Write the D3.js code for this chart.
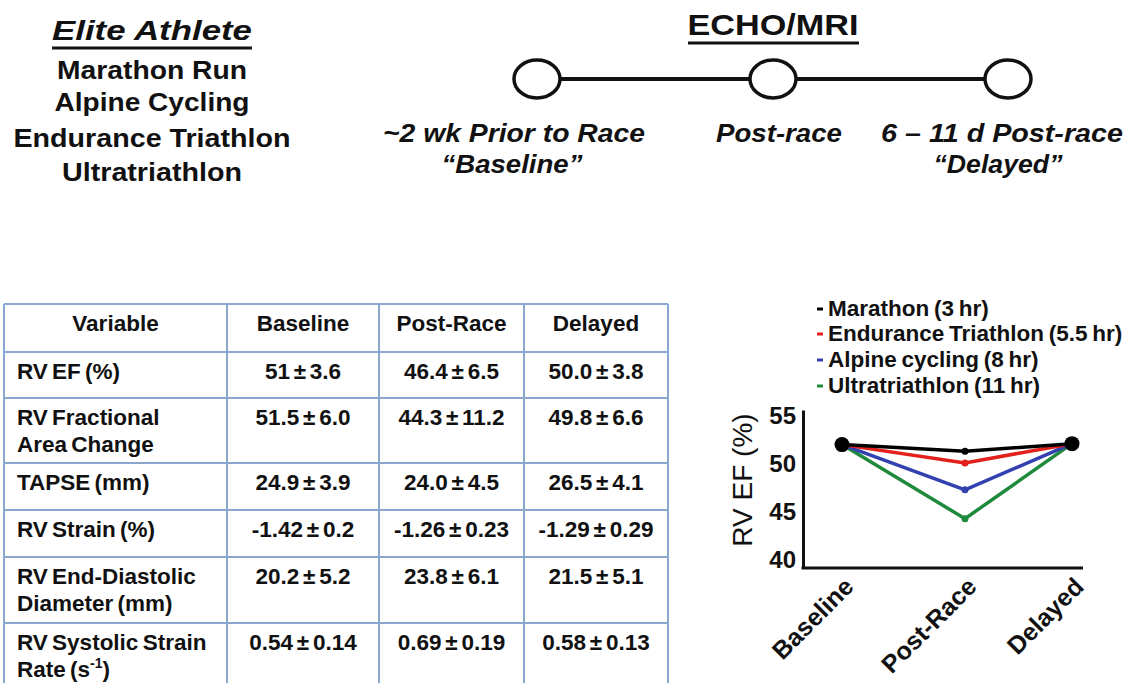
<!DOCTYPE html>
<html>
<head>
<meta charset="utf-8">
<script src="https://cdn.jsdelivr.net/npm/d3@7/dist/d3.min.js"></script>
<style>
  html, body { margin: 0; padding: 0; background: #fff; }
  svg { display: block; }
  text { font-family: "Liberation Sans", Arial, Helvetica, sans-serif; fill: #111; }
</style>
</head>
<body>
<svg id="chart" width="1127" height="683"></svg>
<script>
// ---------------- DATA ----------------
const sports = ["Marathon Run", "Alpine Cycling", "Endurance Triathlon", "Ultratriathlon"];
const timepoints = ["Baseline", "Post-Race", "Delayed"];
const timelineLabels = [["~2 wk Prior to Race", "\u201cBaseline\u201d"], ["Post-race"], ["6 \u2013 11 d Post-race", "\u201cDelayed\u201d"]];
const tableHeader = ["Variable", "Baseline", "Post-Race", "Delayed"];
const variables = [["RV EF (%)"], ["RV Fractional", "Area Change"], ["TAPSE (mm)"], ["RV Strain (%)"], ["RV End-Diastolic", "Diameter (mm)"], ["RV Systolic Strain", "Rate (s|-1|)"]];
const baselineVals = ["51 \u00b1 3.6", "51.5 \u00b1 6.0", "24.9 \u00b1 3.9", "-1.42 \u00b1 0.2", "20.2 \u00b1 5.2", "0.54 \u00b1 0.14"];
const postRaceVals = ["46.4 \u00b1 6.5", "44.3 \u00b1 11.2", "24.0 \u00b1 4.5", "-1.26 \u00b1 0.23", "23.8 \u00b1 6.1", "0.69 \u00b1 0.19"];
const delayedVals = ["50.0 \u00b1 3.8", "49.8 \u00b1 6.6", "26.5 \u00b1 4.1", "-1.29 \u00b1 0.29", "21.5 \u00b1 5.1", "0.58 \u00b1 0.13"];
const seriesNames = ["Marathon (3 hr)", "Endurance Triathlon (5.5 hr)", "Alpine cycling (8 hr)", "Ultratriathlon (11 hr)"];
const seriesColors = ["#000000", "#e3201b", "#3340b0", "#1f8a3c"];
const marathonEF = [52.0, 51.3, 52.1];
const triathlonEF = [52.0, 50.1, 52.1];
const cyclingEF = [52.0, 47.3, 52.1];
const ultraEF = [52.0, 44.3, 52.1];
const yTicks = [40, 45, 50, 55];
const yLabel = "RV EF (%)";

// ---------------- LAYOUT ----------------
const svg = d3.select("#chart");
const FONT = '"Liberation Sans", Arial, Helvetica, sans-serif';
function fit(sel, w) { return sel.attr("textLength", w).attr("lengthAdjust", "spacingAndGlyphs"); }

// --- Left header ---
const leftHead = svg.append("g");
fit(leftHead.append("text").attr("x", 152).attr("y", 40).attr("text-anchor", "middle")
  .attr("font-size", 28).attr("font-weight", "bold").attr("font-style", "italic").text("Elite Athlete"), 200);
leftHead.append("line").attr("x1", 52).attr("x2", 252).attr("y1", 48).attr("y2", 48)
  .attr("stroke", "#111").attr("stroke-width", 3);
const sportW = [190, 195, 277, 180];
const sportY = [79, 111, 147, 181];
sports.forEach((s, i) => {
  fit(leftHead.append("text").attr("x", 152).attr("y", sportY[i]).attr("text-anchor", "middle")
    .attr("font-size", 25.5).attr("font-weight", "bold").text(s), sportW[i]);
});

// --- Right header (timeline) ---
const tl = svg.append("g");
fit(tl.append("text").attr("x", 773).attr("y", 35).attr("text-anchor", "middle")
  .attr("font-size", 30).attr("font-weight", "bold").text("ECHO/MRI"), 171);
tl.append("line").attr("x1", 688).attr("x2", 859).attr("y1", 43).attr("y2", 43)
  .attr("stroke", "#111").attr("stroke-width", 3);
const tlX = d3.scaleOrdinal().domain(timepoints).range([537, 773, 1008]);
tl.append("line").attr("x1", tlX("Baseline")).attr("x2", tlX("Delayed")).attr("y1", 79).attr("y2", 79)
  .attr("stroke", "#111").attr("stroke-width", 4);
tl.selectAll("ellipse").data(timepoints).join("ellipse")
  .attr("cx", d => tlX(d)).attr("cy", 79).attr("rx", 23).attr("ry", 19)
  .attr("fill", "#fff").attr("stroke", "#111").attr("stroke-width", 3.5);
const tlLabelX = [[514, 512], [779], [1002, 998]];
const tlLabelW = [[262, 141], [126], [242, 129]];
const tlLabelY = [142, 173];
timelineLabels.forEach((lines, i) => {
  lines.forEach((t, j) => {
    fit(tl.append("text").attr("x", tlLabelX[i][j]).attr("y", tlLabelY[j]).attr("text-anchor", "middle")
      .attr("font-size", 25.5).attr("font-weight", "bold").attr("font-style", "italic").text(t), tlLabelW[i][j]);
  });
});

// --- Table ---
const tbl = svg.append("g");
const colX = [4, 227, 379, 524, 668];
const rowY = [304, 352, 398, 463, 510, 557, 623, 692];
const border = "#8ba6cf";
const tFont = 22.5;
colX.forEach(x => tbl.append("line").attr("x1", x).attr("x2", x).attr("y1", rowY[0]).attr("y2", rowY[rowY.length - 1])
  .attr("stroke", border).attr("stroke-width", 2));
rowY.forEach(y => tbl.append("line").attr("x1", colX[0]).attr("x2", colX[4]).attr("y1", y).attr("y2", y)
  .attr("stroke", border).attr("stroke-width", 2));
tableHeader.forEach((h, i) => {
  tbl.append("text").attr("x", (colX[i] + colX[i + 1]) / 2).attr("y", rowY[0] + 27)
    .attr("text-anchor", "middle").attr("font-size", tFont).attr("font-weight", "bold").text(h);
});
const valueCols = [baselineVals, postRaceVals, delayedVals];
variables.forEach((lines, r) => {
  const top = rowY[r + 1];
  lines.forEach((ln, j) => {
    const t = tbl.append("text").attr("x", 17).attr("y", top + 27 + j * 27)
      .attr("font-size", tFont).attr("font-weight", "bold").attr("word-spacing", -2);
    const parts = ln.split("|");
    parts.forEach((p, k) => {
      if (k % 2 === 1) {
        t.append("tspan").attr("font-size", 14).attr("dy", -9).text(p);
      } else {
        const ts = t.append("tspan").text(p);
        if (k > 0) ts.attr("dy", 9);
      }
    });
  });
  valueCols.forEach((col, c) => {
    tbl.append("text").attr("x", (colX[c + 1] + colX[c + 2]) / 2).attr("y", top + 27)
      .attr("text-anchor", "middle").attr("font-size", tFont).attr("font-weight", "bold")
      .attr("word-spacing", -2.5).text(col[r]);
  });
});

// --- Line chart ---
const series = [
  { name: seriesNames[0], color: seriesColors[0], values: marathonEF },
  { name: seriesNames[1], color: seriesColors[1], values: triathlonEF },
  { name: seriesNames[2], color: seriesColors[2], values: cyclingEF },
  { name: seriesNames[3], color: seriesColors[3], values: ultraEF }
];
const x = d3.scaleOrdinal().domain(timepoints).range([842, 965, 1072]);
const y = d3.scaleLinear().domain([39.17, 55.6]).range([568, 410]);
const axisX0 = 803, axisX1 = 1083;

const chart = svg.append("g");
// y axis
const yAxis = chart.append("g").attr("transform", `translate(${axisX0},0)`)
  .call(d3.axisLeft(y).tickValues(yTicks).tickSize(0).tickPadding(7));
yAxis.select(".domain").attr("stroke", "#111").attr("stroke-width", 3);
yAxis.selectAll("text").attr("font-size", 24).attr("font-weight", "bold").attr("font-family", FONT).attr("fill", "#111");
// x axis line
chart.append("line").attr("x1", axisX0 - 1.5).attr("x2", axisX1).attr("y1", y(39.17)).attr("y2", y(39.17))
  .attr("stroke", "#111").attr("stroke-width", 3);
// x labels
chart.selectAll("text.xl").data(timepoints).join("text").attr("class", "xl")
  .attr("transform", d => `translate(${x(d) + 7},${582}) rotate(-45)`)
  .attr("text-anchor", "end").attr("dy", "0.35em")
  .attr("font-size", 25).attr("font-weight", "bold").text(d => d);
// y label
chart.append("text").attr("transform", "translate(752,480) rotate(-90)")
  .attr("text-anchor", "middle").attr("font-size", 28).text(yLabel);

// lines
const line = d3.line().x((d, i) => x(timepoints[i])).y(d => y(d));
const drawOrder = series.slice().reverse();
chart.selectAll("path.series").data(drawOrder).join("path").attr("class", "series")
  .attr("d", d => line(d.values)).attr("fill", "none").attr("stroke", d => d.color)
  .attr("stroke-width", 3.5).attr("stroke-linejoin", "miter");
// small post-race dots
chart.selectAll("circle.post").data(drawOrder).join("circle").attr("class", "post")
  .attr("cx", x("Post-Race")).attr("cy", d => y(d.values[1])).attr("r", 3.5).attr("fill", d => d.color);
// big baseline/delayed dots (shared by all series)
chart.selectAll("circle.big").data([0, 2]).join("circle").attr("class", "big")
  .attr("cx", i => x(timepoints[i]))
  .attr("cy", i => y(d3.mean(series, s => s.values[i])))
  .attr("r", 7.5).attr("fill", "#000");

// legend
const legY = [308, 333, 359, 385];
const leg = chart.append("g");
series.forEach((s, i) => {
  leg.append("line").attr("x1", 817).attr("x2", 823).attr("y1", legY[i] + 1).attr("y2", legY[i] + 1)
    .attr("stroke", s.color).attr("stroke-width", 3);
  leg.append("text").attr("x", 828).attr("y", legY[i] + 8).attr("font-size", 22.5)
    .attr("font-weight", "bold").attr("word-spacing", -1.5).text(s.name);
});
</script>
</body>
</html>
